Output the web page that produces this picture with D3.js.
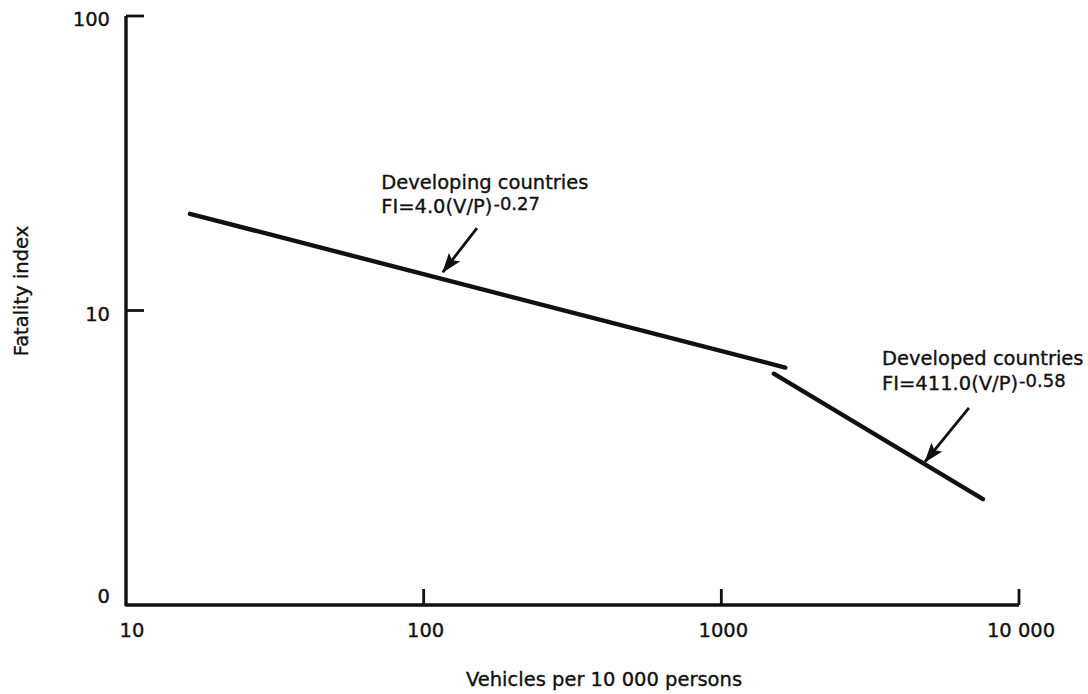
<!DOCTYPE html>
<html>
<head>
<meta charset="utf-8">
<script src="https://cdn.jsdelivr.net/npm/d3@7"></script>
<style>
  html, body { margin: 0; padding: 0; background: #fff; }
  svg { display: block; }
  text { font-family: "DejaVu Sans", sans-serif; fill: #111; stroke: #111; stroke-width: 0.35px; }
</style>
</head>
<body>
<svg id="chart" width="1088" height="694"></svg>
<script>
// ---- data ----
const xTickValues = [10, 100, 1000, 10000];
const xTickLabels = ["10", "100", "1000", "10 000"];
const yTickValues = [1, 10, 100];
const yTickLabels = ["0", "10", "100"];

const developingX = [16.4, 1640];
const developingY = [21.3, 6.4];
const developedX = [1500, 7570];
const developedY = [6.1, 2.29];

const seriesNames = ["Developing countries", "Developed countries"];
const seriesFormulas = ["FI=4.0(V/P)", "FI=411.0(V/P)"];
const seriesExponents = ["-0.27", "-0.58"];
// arrow tail and head (data coordinates)
const arrowTailX = [151, 6790];
const arrowTailY = [19.05, 4.67];
const arrowHeadX = [116, 4830];
const arrowHeadY = [13.5, 3.06];
// label anchors (data coordinates, first line baseline)
const labelX = [72, 3467];
const labelY = [25.9, 6.53];

const xTitle = "Vehicles per 10 000 persons";
const yTitle = "Fatality index";

// ---- chart ----
const svg = d3.select("#chart");
const x = d3.scaleLog().domain([10, 10000]).range([126, 1019]);
const y = d3.scaleLog().domain([1, 100]).range([605, 16]);
const ink = "#111";
const fs = 19.5;

// axes lines
svg.append("path")
  .attr("d", `M${x(10)},${y(100)} L${x(10)},${y(1)} L${x(10000)},${y(1)}`)
  .attr("fill", "none").attr("stroke", ink).attr("stroke-width", 3.4)
  .attr("stroke-linejoin", "round");

// y ticks (pointing right)
svg.selectAll(".ytick").data(yTickValues.filter(v => v !== 1)).enter()
  .append("line")
  .attr("x1", x(10)).attr("x2", x(10) + 18)
  .attr("y1", d => y(d)).attr("y2", d => y(d))
  .attr("stroke", ink).attr("stroke-width", 2.8);

// x ticks (pointing up)
svg.selectAll(".xtick").data(xTickValues.filter(v => v !== 10)).enter()
  .append("line")
  .attr("x1", d => x(d)).attr("x2", d => x(d))
  .attr("y1", y(1)).attr("y2", y(1) - 16)
  .attr("stroke", ink).attr("stroke-width", 2.8);

// y labels
svg.selectAll(".ylab").data(yTickValues).enter()
  .append("text")
  .attr("x", x(10) - 16)
  .attr("y", (d, i) => i === 0 ? y(d) - 2 : y(d) + 10)
  .attr("text-anchor", "end")
  .attr("font-size", fs)
  .text((d, i) => yTickLabels[i]);

// x labels
svg.selectAll(".xlab").data(xTickValues).enter()
  .append("text")
  .attr("x", (d, i) => x(d) + (i === 0 ? 6 : 2))
  .attr("y", y(1) + 32)
  .attr("text-anchor", "middle")
  .attr("font-size", fs)
  .text((d, i) => xTickLabels[i]);

// axis titles
svg.append("text")
  .attr("x", 604).attr("y", 686)
  .attr("text-anchor", "middle").attr("font-size", fs)
  .text(xTitle);
svg.append("text")
  .attr("transform", `translate(28,291) rotate(-90)`)
  .attr("text-anchor", "middle").attr("font-size", fs)
  .text(yTitle);

// data lines
const line = d3.line().x(d => x(d[0])).y(d => y(d[1]));
const series = [
  developingX.map((v, i) => [v, developingY[i]]),
  developedX.map((v, i) => [v, developedY[i]])
];
svg.selectAll(".series").data(series).enter()
  .append("path")
  .attr("d", line)
  .attr("fill", "none").attr("stroke", ink)
  .attr("stroke-width", 4.4).attr("stroke-linecap", "round");

// arrows
svg.append("defs").append("marker")
  .attr("id", "ah").attr("markerUnits", "userSpaceOnUse")
  .attr("viewBox", "0 0 20 14").attr("refX", 19).attr("refY", 7)
  .attr("markerWidth", 20).attr("markerHeight", 14)
  .attr("orient", "auto")
  .append("path").attr("d", "M0,0 L20,7 L0,14 L4,7 Z").attr("fill", ink);

arrowTailX.forEach((tx, i) => {
  svg.append("line")
    .attr("x1", x(tx)).attr("y1", y(arrowTailY[i]))
    .attr("x2", x(arrowHeadX[i])).attr("y2", y(arrowHeadY[i]))
    .attr("stroke", ink).attr("stroke-width", 2.8)
    .attr("marker-end", "url(#ah)");
});

// labels
seriesNames.forEach((name, i) => {
  const lx = x(labelX[i]), ly = y(labelY[i]);
  svg.append("text").attr("x", lx).attr("y", ly)
    .attr("font-size", fs).text(name);
  const t = svg.append("text").attr("x", lx).attr("y", ly + 24.5)
    .attr("font-size", fs);
  t.append("tspan").text(seriesFormulas[i]);
  t.append("tspan").attr("dy", -3).attr("dx", 1)
    .attr("font-size", 18).text(seriesExponents[i]);
});
</script>
</body>
</html>
